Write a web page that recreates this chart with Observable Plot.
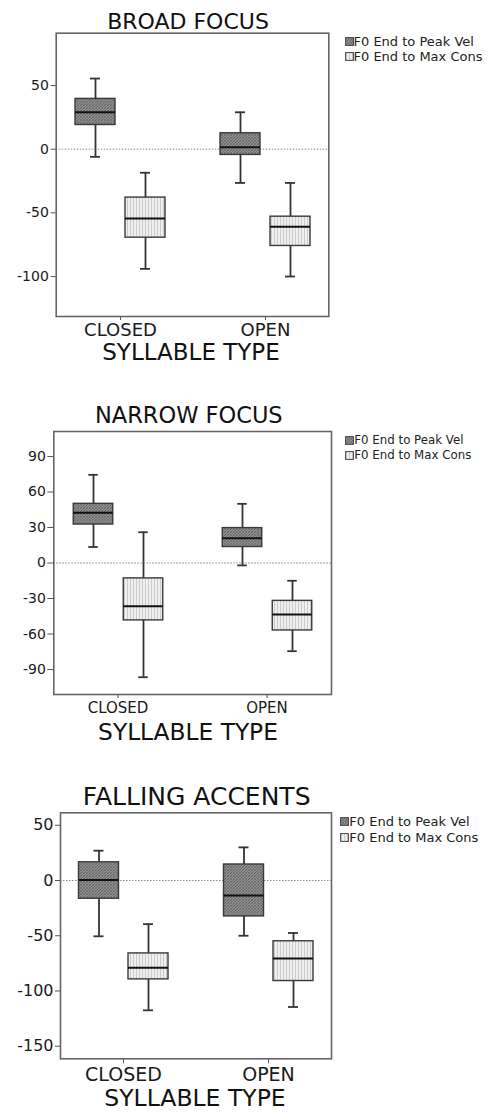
<!DOCTYPE html>
<html><head><meta charset="utf-8">
<script src="https://cdn.jsdelivr.net/npm/d3@7"></script>
<script src="https://cdn.jsdelivr.net/npm/@observablehq/plot@0.6"></script>
<style>
body{margin:0;background:#fff;font-family:"DejaVu Sans",Verdana,sans-serif;}
#page{position:relative;width:494px;height:1113px;overflow:hidden;background:#fff;}
.t{position:absolute;white-space:nowrap;line-height:0.9;color:#111;transform:translateX(-50%);}
.lt{position:absolute;white-space:nowrap;line-height:1;color:#222;}
svg.plot{position:absolute;left:0;}
svg.sw{position:absolute;}
</style></head><body>
<svg width="0" height="0" style="position:absolute">
  <defs>
    <pattern id="patDark" width="3" height="3" patternUnits="userSpaceOnUse">
      <rect width="3" height="3" fill="#8e8e8e"/>
      <path d="M0,3 L3,0" stroke="#5e5e5e" stroke-width="0.8"/>
      <path d="M0,0 L3,3" stroke="#707070" stroke-width="0.5"/>
    </pattern>
    <pattern id="patLight" width="3" height="3" patternUnits="userSpaceOnUse">
      <rect width="3" height="3" fill="#efefef"/>
      <line x1="1.5" y1="0" x2="1.5" y2="3" stroke="#c2c2c2" stroke-width="0.8"/>
    </pattern>
  </defs>
</svg>
<div id="page"></div>
<script>
// ---------- data ----------
const categories = ["CLOSED", "OPEN"];
const seriesNames = ["F0 End to Peak Vel", "F0 End to Max Cons"];
const panelTitles = ["BROAD FOCUS", "NARROW FOCUS", "FALLING ACCENTS"];
const xAxisLabel = "SYLLABLE TYPE";
// each row: [lower whisker, Q1, median, Q3, upper whisker] for CLOSED, OPEN
const broadPeakVel   = [[-6, 19, 29, 39.5, 55.5], [-26.5, -4.5, 1.5, 12.5, 29]];
const broadMaxCons   = [[-94, -69.5, -54.5, -38, -18.5], [-100, -76, -61, -53, -26.5]];
const narrowPeakVel  = [[13.5, 32.5, 42.5, 50, 74.5], [-2, 13.5, 21, 29.5, 50]];
const narrowMaxCons  = [[-96.5, -48.5, -36.5, -13, 26], [-74.5, -57, -43.5, -32, -15]];
const fallingPeakVel = [[-50.5, -16.5, 0.5, 16.5, 27], [-50, -32.5, -13.5, 14.5, 30]];
const fallingMaxCons = [[-117.5, -89.5, -79, -66, -39.5], [-114.5, -91, -70.5, -55, -47.5]];
const broadTicks   = [50, 0, -50, -100];
const narrowTicks  = [90, 60, 30, 0, -30, -60, -90];
const fallingTicks = [50, 0, -50, -100, -150];

// ---------- layout ----------
const panels = [
  {title: panelTitles[0], peak: broadPeakVel, maxc: broadMaxCons, ticks: broadTicks, domain: [-131.4, 91.1],
   top: 0, h: 370, fL: 55.7, fR: 328.3, fT: 32.7, fB: 316, step: 145, offD: -25, offL: 25,
   yFs: 14, yTick: 5, yPad: 2.4, xFs: 18, xTick: 4, xPad: 3,
   titleFs: 22, titleX: 188, titleC: 21.3, labFs: 23, labX: 191, labC: 351.7,
   legSw: 345, legText: 353.5, legY: [41.7, 56.7], legFs: 13},
  {title: panelTitles[1], peak: narrowPeakVel, maxc: narrowMaxCons, ticks: narrowTicks, domain: [-111.1, 111.1],
   top: 370, h: 380, fL: 53.3, fR: 331, fT: 431, fB: 694, step: 149.4, offD: -24.5, offL: 25.5,
   yFs: 14, yTick: 6, yPad: 2, xFs: 15, xTick: 4, xPad: 4,
   titleFs: 22.5, titleX: 188.8, titleC: 415, labFs: 23.3, labX: 188, labC: 731.7,
   legSw: 345, legText: 354.3, legY: [440.7, 455.7], legFs: 11.8},
  {title: panelTitles[2], peak: fallingPeakVel, maxc: fallingMaxCons, ticks: fallingTicks, domain: [-161.4, 61.3],
   top: 750, h: 363, fL: 60, fR: 331, fT: 812.3, fB: 1058.3, step: 145, offD: -24.5, offL: 25,
   yFs: 16, yTick: 5, yPad: 2, xFs: 19, xTick: 5, xPad: 4,
   titleFs: 25, titleX: 196.7, titleC: 796.7, labFs: 23.5, labX: 195, labC: 1098.6,
   legSw: 340, legText: 349.3, legY: [821, 837], legFs: 13}
];

const page = document.getElementById("page");
const fills = ["url(#patDark)", "url(#patLight)"];
const capOffset = 0.9 / 2 - 0.0185; // cap-centre offset for line-height 0.9

function toRows(stats) {
  return stats.map((s, i) => ({cat: categories[i], low: s[0], q1: s[1], med: s[2], q3: s[3], high: s[4]}));
}

panels.forEach(p => {
  const W = p.fR - p.fL;
  const pi = 0.2;
  const po = (W / p.step - 2 + pi) / 2;
  const B = p.step * (1 - pi);
  const boxW = 40, capW = 10;

  function boxMarks(rows, off, fill) {
    const inL = B / 2 + off - boxW / 2, inR = B / 2 - off - boxW / 2;
    const cL = B / 2 + off - capW / 2, cR = B / 2 - off - capW / 2;
    return [
      Plot.ruleX(rows, {x: "cat", y1: "low", y2: "high", dx: off, stroke: "#333", strokeWidth: 1.8}),
      Plot.tickY(rows, {x: "cat", y: "low", insetLeft: cL, insetRight: cR, stroke: "#333", strokeWidth: 1.8}),
      Plot.tickY(rows, {x: "cat", y: "high", insetLeft: cL, insetRight: cR, stroke: "#333", strokeWidth: 1.8}),
      Plot.barY(rows, {x: "cat", y1: "q1", y2: "q3", insetLeft: inL, insetRight: inR, fill: fill, stroke: "#3a3a3a", strokeWidth: 1.4}),
      Plot.tickY(rows, {x: "cat", y: "med", insetLeft: inL, insetRight: inR, stroke: "#111", strokeWidth: 2})
    ];
  }

  const svg = Plot.plot({
    width: 494, height: p.h,
    marginTop: p.fT - p.top, marginBottom: p.top + p.h - p.fB,
    marginLeft: p.fL, marginRight: 494 - p.fR,
    style: {fontFamily: "'DejaVu Sans', Verdana, sans-serif", color: "#1a1a1a", background: "transparent"},
    x: {type: "band", domain: categories, paddingInner: pi, paddingOuter: po},
    y: {domain: p.domain},
    marks: [
      Plot.ruleY([0], {stroke: "#8a8a8a", strokeDasharray: "1.5,1.5", strokeWidth: 1}),
      ...boxMarks(toRows(p.peak), p.offD, fills[0]),
      ...boxMarks(toRows(p.maxc), p.offL, fills[1]),
      Plot.frame({stroke: "#666", strokeWidth: 1.6}),
      Plot.axisY({ticks: p.ticks, tickSize: p.yTick, tickPadding: p.yPad, fontSize: p.yFs, tickFormat: d => `${d}`, label: null, stroke: "#555"}),
      Plot.axisX({tickSize: p.xTick, tickPadding: p.xPad, fontSize: p.xFs, label: null, stroke: "#555"})
    ]
  });
  svg.classList.add("plot");
  svg.style.top = p.top + "px";
  page.appendChild(svg);

  const title = document.createElement("div");
  title.className = "t";
  title.textContent = p.title;
  title.style.fontSize = p.titleFs + "px";
  title.style.left = p.titleX + "px";
  title.style.top = (p.titleC - capOffset * p.titleFs) + "px";
  page.appendChild(title);

  const lab = document.createElement("div");
  lab.className = "t";
  lab.textContent = xAxisLabel;
  lab.style.fontSize = p.labFs + "px";
  lab.style.left = p.labX + "px";
  lab.style.top = (p.labC - capOffset * p.labFs) + "px";
  page.appendChild(lab);

  seriesNames.forEach((name, i) => {
    const sw = document.createElementNS("http://www.w3.org/2000/svg", "svg");
    sw.setAttribute("class", "sw");
    sw.setAttribute("width", 9); sw.setAttribute("height", 9);
    sw.style.left = p.legSw + "px";
    sw.style.top = (p.legY[i] - 4.5) + "px";
    const r = document.createElementNS("http://www.w3.org/2000/svg", "rect");
    r.setAttribute("x", 0.6); r.setAttribute("y", 0.6); r.setAttribute("width", 7.8); r.setAttribute("height", 7.8);
    r.setAttribute("fill", fills[i]); r.setAttribute("stroke", "#444"); r.setAttribute("stroke-width", 1);
    sw.appendChild(r);
    page.appendChild(sw);
    const t = document.createElement("div");
    t.className = "lt";
    t.textContent = name;
    t.style.fontSize = p.legFs + "px";
    t.style.left = p.legText + "px";
    t.style.top = (p.legY[i] - 0.4815 * p.legFs) + "px";
    page.appendChild(t);
  });
});
</script>
</body></html>
